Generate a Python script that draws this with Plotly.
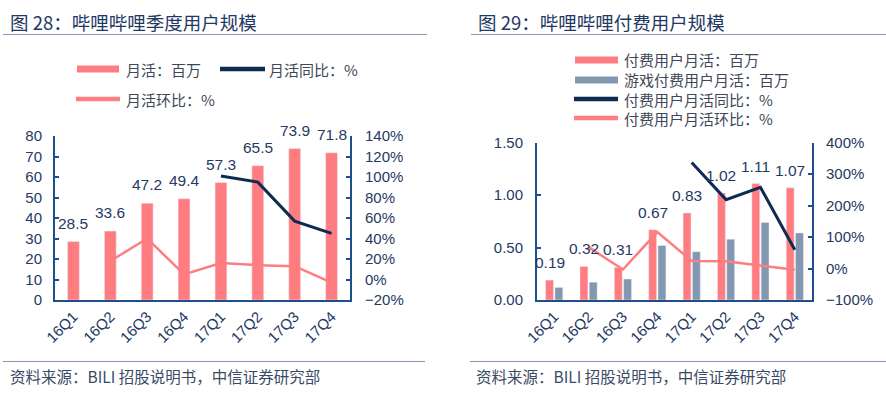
import plotly.graph_objects as go

W, H = 886, 396

quarters = ["16Q1", "16Q2", "16Q3", "16Q4", "17Q1", "17Q2", "17Q3", "17Q4"]

# Figure 28
mau = [28.5, 33.6, 47.2, 49.4, 57.3, 65.5, 73.9, 71.8]
mau_yoy = [None, None, None, None, 101, 95, 57, 45]
mau_qoq = [None, 18, 40, 5, 16, 14, 13, -3]

# Figure 29
paying = [0.19, 0.32, 0.31, 0.67, 0.83, 1.02, 1.11, 1.07]
game_paying = [0.12, 0.17, 0.20, 0.52, 0.46, 0.58, 0.74, 0.64]
paying_yoy = [None, None, None, None, 337, 219, 258, 60]
paying_qoq = [None, 68, -3, 116, 24, 23, 9, -4]

names_left = ["月活：百万", "月活同比：%", "月活环比：%"]
names_right = ["付费用户月活：百万", "游戏付费用户月活：百万", "付费用户月活同比：%", "付费用户月活环比：%"]
titles = ["图 28：哔哩哔哩季度用户规模", "图 29：哔哩哔哩付费用户规模"]
source = "资料来源：BILI 招股说明书，中信证券研究部"

PINK = "#FF7C80"
GREY = "#8497B0"
NAVY = "#0E2B52"
AXIS = "#1F4E8F"
TXT = "#1F3A64"
CJK = "Noto Sans CJK SC"
LAT = "Liberation Sans, Arial"

def px(x):
    return x / W

def py(y):
    return 1 - y / H

idx = list(range(len(quarters)))

fig = go.Figure()

# ---- left chart ----
fig.add_trace(go.Bar(x=idx, y=mau, width=0.32, marker_color=PINK, name=names_left[0],
                     xaxis="x", yaxis="y", showlegend=False))
fig.add_trace(go.Scatter(x=idx, y=mau_yoy, mode="lines", line=dict(color=NAVY, width=3),
                         xaxis="x", yaxis="y2", showlegend=False, name=names_left[1]))
fig.add_trace(go.Scatter(x=idx, y=mau_qoq, mode="lines", line=dict(color=PINK, width=2.5),
                         xaxis="x", yaxis="y2", showlegend=False, name=names_left[2]))

# ---- right chart ----
fig.add_trace(go.Bar(x=idx, y=paying, width=0.23, offset=-0.25, marker_color=PINK, name=names_right[0],
                     xaxis="x2", yaxis="y3", showlegend=False))
fig.add_trace(go.Bar(x=idx, y=game_paying, width=0.23, offset=0.02, marker_color=GREY, name=names_right[1],
                     xaxis="x2", yaxis="y3", showlegend=False))
fig.add_trace(go.Scatter(x=idx, y=paying_yoy, mode="lines", line=dict(color=NAVY, width=3),
                         xaxis="x2", yaxis="y4", showlegend=False, name=names_right[2]))
fig.add_trace(go.Scatter(x=idx, y=paying_qoq, mode="lines", line=dict(color=PINK, width=2.5),
                         xaxis="x2", yaxis="y4", showlegend=False, name=names_right[3]))

tickfont = dict(family=LAT, size=15, color=TXT)
xcommon = dict(range=[-0.5, 7.5], tickvals=idx, ticktext=quarters, tickangle=-45,
               showline=True, linecolor=AXIS, linewidth=2, ticks="", showgrid=False,
               zeroline=False, tickfont=tickfont, automargin=False)
ycommon = dict(showline=True, linecolor=AXIS, linewidth=2, ticks="inside", ticklen=4,
               tickcolor=AXIS, tickwidth=1.5, showgrid=False, zeroline=False, tickfont=tickfont,
               automargin=False)

fig.update_layout(
    width=W, height=H,
    margin=dict(l=0, r=0, t=0, b=0, pad=0),
    paper_bgcolor="white", plot_bgcolor="white",
    barmode="overlay",
    xaxis=dict(domain=[px(55), px(350)], anchor="y", **xcommon),
    yaxis=dict(domain=[py(300), py(136)], range=[0, 80], dtick=10, anchor="x",
               ticklabelstandoff=8, **ycommon),
    yaxis2=dict(range=[-20, 140], dtick=20, ticksuffix="%", overlaying="y", side="right",
                anchor="x", ticklabelstandoff=10, **ycommon),
    xaxis2=dict(domain=[px(537), px(812)], anchor="y3", **xcommon),
    yaxis3=dict(domain=[py(300), py(142.7)], range=[0, 1.5], dtick=0.5, tickformat=".2f",
                anchor="x2", ticklabelstandoff=9, **ycommon),
    yaxis4=dict(range=[-100, 400], dtick=100, ticksuffix="%", overlaying="y3", side="right",
                anchor="x2", ticklabelstandoff=9, **ycommon),
)

shapes = []
annotations = []

# data labels (placed through the axes)
for i, v in zip(idx, mau):
    annotations.append(dict(text=f"{v:.1f}", x=i, y=v, xref="x", yref="y", yshift=18.5,
                            xanchor="center", yanchor="middle", showarrow=False,
                            font=dict(family=LAT, size=15.5, color=TXT)))
for i, v in zip(idx, paying):
    annotations.append(dict(text=f"{v:.2f}", x=i - 0.135, y=v, xref="x2", yref="y3", yshift=17.5,
                            xanchor="center", yanchor="middle", showarrow=False,
                            font=dict(family=LAT, size=15.5, color=TXT)))

# titles and rules
for title, tx, lx0, lx1 in [(titles[0], 8, 3, 427), (titles[1], 476, 471, 886)]:
    annotations.append(dict(text=title, x=px(tx), y=py(22), xref="paper", yref="paper",
                            xanchor="left", yanchor="middle", showarrow=False,
                            font=dict(family=CJK, size=18.5, color="#1F3864")))
    shapes.append(dict(type="line", xref="paper", yref="paper", x0=px(lx0), x1=px(lx1),
                       y0=py(34.5), y1=py(34.5), line=dict(color="#8497B0", width=1)))

# footers
for fx, lx0, lx1 in [(8, 3, 425), (474, 470, 886)]:
    shapes.append(dict(type="line", xref="paper", yref="paper", x0=px(lx0), x1=px(lx1),
                       y0=py(361.5), y1=py(361.5), line=dict(color="#8497B0", width=1)))
    annotations.append(dict(text=source, x=px(fx), y=py(376), xref="paper", yref="paper",
                            xanchor="left", yanchor="middle", showarrow=False,
                            font=dict(family=CJK, size=15.5, color="#3A4A66")))

def legend_item(kind, color, x0, x1, y, label, tx):
    if kind == "rect":
        shapes.append(dict(type="rect", xref="paper", yref="paper", x0=px(x0), x1=px(x1),
                           y0=py(y + 3.5), y1=py(y - 3.5), fillcolor=color, line=dict(width=0)))
    else:
        shapes.append(dict(type="line", xref="paper", yref="paper", x0=px(x0), x1=px(x1),
                           y0=py(y), y1=py(y), line=dict(color=color, width=4.5)))
    annotations.append(dict(text=label, x=px(tx), y=py(y), xref="paper", yref="paper",
                            xanchor="left", yanchor="middle", showarrow=False,
                            font=dict(family=CJK, size=15, color="#404858")))

legend_item("rect", PINK, 77, 119, 69, names_left[0], 124)
legend_item("line", NAVY, 220, 265, 69, names_left[1], 267)
legend_item("line", PINK, 76, 120, 99, names_left[2], 124)

legend_item("rect", PINK, 575, 618, 60, names_right[0], 622)
legend_item("rect", GREY, 575, 618, 80, names_right[1], 622)
legend_item("line", NAVY, 574, 618, 99, names_right[2], 622)
legend_item("line", PINK, 574, 618, 118, names_right[3], 622)

fig.update_layout(shapes=shapes, annotations=annotations)

fig.write_html("out.html", config={"displayModeBar": False},
               post_script="document.body.style.margin='0';document.body.style.overflow='hidden';")
